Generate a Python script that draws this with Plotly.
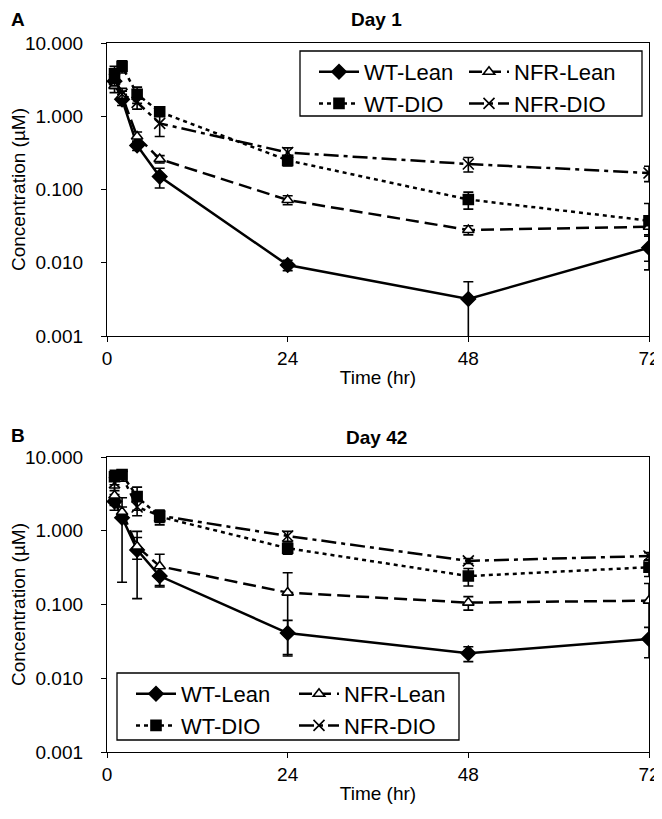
import plotly.graph_objects as go

# ---------------- data ----------------
time_hr = [1, 2, 4, 7, 24, 48, 72]
x_tick_vals = [0, 24, 48, 72]
y_tick_vals = [0.001, 0.01, 0.1, 1, 10]
y_tick_text = ["0.001", "0.010", "0.100", "1.000", "10.000"]
series_names = ["WT-Lean", "NFR-Lean", "WT-DIO", "NFR-DIO"]
panel_titles = ["Day 1", "Day 42"]
panel_letters = ["A", "B"]

# Day 1 (panel A): mean and SD, µM
d1_wt_lean = [3.0, 1.7, 0.40, 0.15, 0.0093, 0.0032, 0.016]
d1_wt_lean_sd = [0.6, 0.3, 0.06, 0.045, 0.0015, 0.0023, 0.008]
d1_nfr_lean = [2.6, 1.9, 0.53, 0.26, 0.072, 0.028, 0.031]
d1_nfr_lean_sd = [0.5, 0.3, 0.08, 0.03, 0.01, 0.004, 0.008]
d1_wt_dio = [3.8, 4.8, 2.0, 1.15, 0.25, 0.073, 0.0375]
d1_wt_dio_sd = [1.0, 0.9, 0.5, 0.15, 0.04, 0.019, 0.027]
d1_nfr_dio = [3.2, 2.0, 1.55, 0.80, 0.32, 0.223, 0.168]
d1_nfr_dio_sd = [0.6, 0.4, 0.3, 0.27, 0.05, 0.05, 0.04]

# Day 42 (panel B)
d42_wt_lean = [2.5, 1.5, 0.55, 0.243, 0.041, 0.0218, 0.034]
d42_wt_lean_sd = [0.6, 1.3, 0.43, 0.07, 0.02, 0.005, 0.015]
d42_nfr_lean = [3.0, 1.8, 0.61, 0.33, 0.145, 0.106, 0.113]
d42_nfr_lean_sd = [0.8, 0.3, 0.2, 0.15, 0.125, 0.022, 0.08]
d42_wt_dio = [5.4, 5.8, 2.9, 1.55, 0.58, 0.243, 0.32]
d42_wt_dio_sd = [1.2, 0.8, 1.0, 0.35, 0.1, 0.065, 0.08]
d42_nfr_dio = [4.5, 5.5, 2.1, 1.6, 0.85, 0.39, 0.455]
d42_nfr_dio_sd = [1.0, 0.8, 0.5, 0.3, 0.13, 0.03, 0.05]

panels = [
    [d1_wt_lean, d1_nfr_lean, d1_wt_dio, d1_nfr_dio],
    [d42_wt_lean, d42_nfr_lean, d42_wt_dio, d42_nfr_dio],
]
panels_sd = [
    [d1_wt_lean_sd, d1_nfr_lean_sd, d1_wt_dio_sd, d1_nfr_dio_sd],
    [d42_wt_lean_sd, d42_nfr_lean_sd, d42_wt_dio_sd, d42_nfr_dio_sd],
]

# ---------------- styling ----------------
# the page body has an 8px margin, so the figure is 8px smaller and offset
OFF = 8
W, H = 662 - OFF, 819 - OFF
FONT = "Liberation Sans, Arial, sans-serif"
FS = 19


def px_x(px):
    return (px - OFF) / W


def px_y(py):
    return 1 - (py - OFF) / H


styles = {
    "WT-Lean": dict(dash="solid", symbol="diamond", size=11, fill="black"),
    "NFR-Lean": dict(dash="13px,6px", symbol="triangle-up", size=10, fill="white"),
    "WT-DIO": dict(dash="4px,4px", symbol="square", size=10, fill="black"),
    "NFR-DIO": dict(dash="15px,5px,4px,5px", symbol="x-thin-open", size=11, fill="black"),
}
# legend column for each series, per panel
legend_ids = [
    {"WT-Lean": "legend", "WT-DIO": "legend", "NFR-Lean": "legend2", "NFR-DIO": "legend2"},
    {"WT-Lean": "legend3", "WT-DIO": "legend3", "NFR-Lean": "legend4", "NFR-DIO": "legend4"},
]

fig = go.Figure()
for p in range(2):
    xa = "x" if p == 0 else "x2"
    ya = "y" if p == 0 else "y2"
    for i, name in enumerate(series_names):
        st = styles[name]
        fig.add_trace(go.Scatter(
            x=time_hr, y=panels[p][i], name=name, mode="lines+markers",
            xaxis=xa, yaxis=ya,
            legend=legend_ids[p][name], legendgroup=f"{name}-{p}",
            line=dict(color="black", width=2.5, dash=st["dash"]),
            marker=dict(symbol=st["symbol"], size=st["size"], color=st["fill"],
                        line=dict(color="black", width=1.6)),
            error_y=dict(type="data", array=panels_sd[p][i], color="black",
                         thickness=1.6, width=5),
        ))

x_dom = [px_x(107), px_x(649)]
axis_common = dict(showline=True, linecolor="black", linewidth=1.3, mirror=True,
                   ticks="outside", ticklen=5, tickcolor="black", tickwidth=1.3,
                   showgrid=False, zeroline=False, automargin=False,
                   tickfont=dict(family=FONT, size=FS, color="black"))

xcfg = dict(axis_common, range=[0, 72], tickvals=x_tick_vals, domain=x_dom,
            title=dict(text="Time (hr)", font=dict(family=FONT, size=FS, color="black"),
                       standoff=2))
ycfg = dict(axis_common, type="log", range=[-3, 1], tickvals=y_tick_vals,
            ticktext=y_tick_text, ticklabelstandoff=14,
            title=dict(text="Concentration (µM)", font=dict(family=FONT, size=FS, color="black"),
                       standoff=1))

leg_common = dict(font=dict(family=FONT, size=22, color="black"), bgcolor="rgba(0,0,0,0)",
                  borderwidth=0, orientation="v", xanchor="left", yanchor="top",
                  tracegroupgap=0, itemwidth=40)

fig.update_layout(
    width=W, height=H,
    margin=dict(l=0, r=0, t=0, b=0),
    paper_bgcolor="white", plot_bgcolor="white",
    font=dict(family=FONT, size=FS, color="black"),
    xaxis=dict(xcfg, anchor="y"),
    yaxis=dict(ycfg, domain=[px_y(336), px_y(43)], anchor="x"),
    xaxis2=dict(xcfg, anchor="y2"),
    yaxis2=dict(ycfg, domain=[px_y(752), px_y(457)], anchor="x2"),
    legend=dict(leg_common, x=px_x(314), y=px_y(51)),
    legend2=dict(leg_common, x=px_x(464), y=px_y(51)),
    legend3=dict(leg_common, x=px_x(131), y=px_y(673)),
    legend4=dict(leg_common, x=px_x(294), y=px_y(673)),
    showlegend=True,
    shapes=[
        dict(type="rect", xref="paper", yref="paper", x0=px_x(300), x1=px_x(642),
             y0=px_y(116), y1=px_y(51), line=dict(color="black", width=1.3),
             fillcolor="white", layer="above"),
        dict(type="rect", xref="paper", yref="paper", x0=px_x(117), x1=px_x(459),
             y0=px_y(740), y1=px_y(673), line=dict(color="black", width=1.3),
             fillcolor="white", layer="above"),
    ],
)

for p, (ttl, letter, ty) in enumerate(zip(panel_titles, panel_letters, [20, 437])):
    fig.add_annotation(text=f"<b>{ttl}</b>", xref="paper", yref="paper",
                       x=px_x(377), y=px_y(ty), showarrow=False,
                       xanchor="center", yanchor="middle",
                       font=dict(family=FONT, size=FS, color="black"))
    fig.add_annotation(text=f"<b>{letter}</b>", xref="paper", yref="paper",
                       x=px_x(9), y=px_y(ty - 1), showarrow=False,
                       xanchor="left", yanchor="middle",
                       font=dict(family=FONT, size=FS, color="black"))

fig.write_html("out.html")
